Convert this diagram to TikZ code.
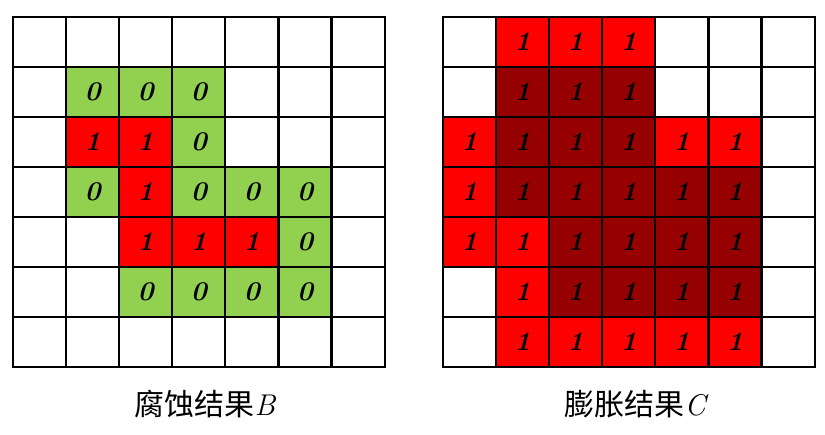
\documentclass[tikz,border=0pt]{standalone}
\usepackage{fontspec}
\newfontfamily\cjk{Noto Sans CJK SC}
\definecolor{lgreen}{HTML}{92D050}
\definecolor{dred}{HTML}{960000}
\tikzset{
	cell/.style={draw, line width=2.2pt, minimum width=53.1pt, minimum height=50pt, inner sep=0pt, font=\fontsize{27}{27}\selectfont\bfseries\itshape},
	blank/.style={cell, fill=white, node contents={}},
	zero/.style={cell, fill=lgreen, node contents={0}},
	one/.style={cell, fill=red, node contents={1}},
	core/.style={cell, fill=dred, node contents={1}},
	caption/.style={font=\cjk\fontsize{30}{30}\selectfont}
}
\begin{document}
\begin{tikzpicture}[x=1pt, y=-1pt]
			\useasboundingbox (0, 0) rectangle (825, 434); %same size as the picture
			
			%erosion result B, row by row from the top
			\foreach \row [count=\r from 0] in {
				{blank,blank,blank,blank,blank,blank,blank},
				{blank,zero,zero,zero,blank,blank,blank},
				{blank,one,one,zero,blank,blank,blank},
				{blank,zero,one,zero,zero,zero,blank},
				{blank,blank,one,one,one,zero,blank},
				{blank,blank,zero,zero,zero,zero,blank},
				{blank,blank,blank,blank,blank,blank,blank}}
				\foreach \t [count=\c from 0] in \row
					\node (B-\r-\c) at ({39.5+53.1*\c}, {42+50*\r}) [\t];
			
			%dilation result C
			\foreach \row [count=\r from 0] in {
				{blank,one,one,one,blank,blank,blank},
				{blank,core,core,core,blank,blank,blank},
				{one,core,core,core,one,one,blank},
				{one,core,core,core,core,core,blank},
				{one,one,core,core,core,core,blank},
				{blank,one,core,core,core,core,blank},
				{blank,one,one,one,one,one,blank}}
				\foreach \t [count=\c from 0] in \row
					\node (C-\r-\c) at ({469.5+53.1*\c}, {42+50*\r}) [\t];
			
			\node[caption] (capB) at (205, 404) {腐蚀结果{\normalfont\itshape B}}; %captions below the grids
			\node[caption] (capC) at (635, 404) {膨胀结果{\normalfont\itshape C}};
		\end{tikzpicture}
\end{document}
